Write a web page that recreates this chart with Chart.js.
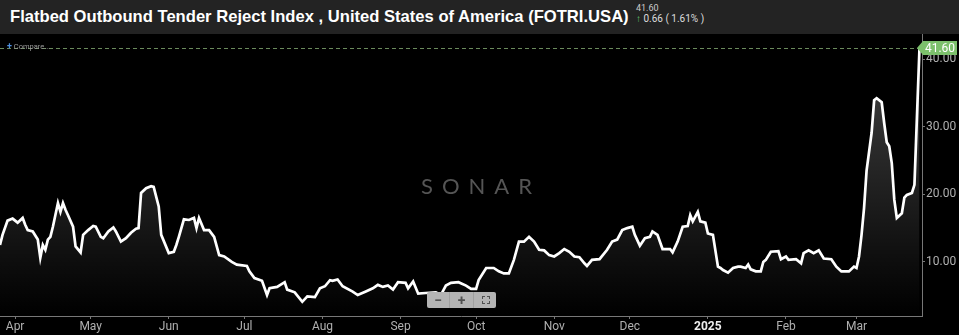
<!DOCTYPE html>
<html>
<head>
<meta charset="utf-8">
<script src="https://cdn.jsdelivr.net/npm/chart.js@4"></script>
<style>
  html, body { margin: 0; padding: 0; background: #000; }
  #wrap { position: relative; width: 959px; height: 335px; overflow: hidden; background: #000; }
  #c { position: absolute; left: 0; top: 0; }
  #bar { position: absolute; left: 0; top: 0; width: 959px; height: 34px; background: #232323; z-index: 2; }
  #title { position: absolute; left: 10px; top: 7px; font: bold 16.6px "Liberation Sans", Arial, sans-serif; color: #fff; white-space: nowrap; }
  #lastv { position: absolute; left: 636px; top: 3px; font: 9px Roboto, sans-serif; color: #ccc; }
  #chg { position: absolute; left: 636px; top: 13px; font: 10px Roboto, sans-serif; color: #ddd; white-space: nowrap; }
  #chg b { color: #62c46e; }
  #compare { position: absolute; left: 7px; top: 41px; font: 7.5px Roboto, sans-serif; color: #9a9a9a; z-index: 2; }
  #compare span { color: #4d8fe0; font-weight: bold; font-size: 9px; }
  #sonar { position: absolute; left: 421px; top: 172px; font: 400 22px Lato, sans-serif; letter-spacing: 9px; color: #555; z-index: 2; }
  #zoomctl { position: absolute; left: 427px; top: 292px; width: 69px; height: 16px; background: #b4b4b4; border-radius: 2px; z-index: 2; display: flex; }
  #zoomctl div { flex: 1; text-align: center; font: bold 14px/16px Roboto, sans-serif; color: #505050; border-right: 1px solid #a0a0a0; position: relative; }
  #zoomctl div:last-child { border-right: none; }
  #fs { position: absolute; left: 8px; top: 4px; width: 6px; height: 6px; border: 1.5px solid #505050; }
  #fs:before { content: ''; position: absolute; left: 2px; top: -2px; width: 2px; height: 10px; background: #b4b4b4; }
  #fs:after { content: ''; position: absolute; left: -2px; top: 2px; width: 10px; height: 2px; background: #b4b4b4; }
</style>
</head>
<body>
<div id="wrap">
  <canvas id="c" width="959" height="335"></canvas>
  <div id="bar">
    <div id="title">Flatbed Outbound Tender Reject Index , United States of America (FOTRI.USA)</div>
    <div id="lastv">41.60</div>
    <div id="chg"><b>↑</b> 0.66 ( 1.61% )</div>
  </div>
  <div id="compare"><span>+</span> Compare...</div>
  <div id="sonar">SONAR</div>
  <div id="zoomctl"><div>−</div><div>+</div><div><span id="fs"></span></div></div>
</div>
<script>
// days counted from 2024-03-26
var START = Date.UTC(2024, 2, 26);

var days = [0,1,3,5,7,9,10,11,13,15,16,17,18,19,20,21,23,24,25,26,27,29,30,32,33,35,37,38,40,41,43,45,46,48,50,52,54,55,56,58,60,61,63,64,67,69,70,71,73,75,77,78,79,81,83,85,87,89,92,94,98,99,101,104,106,107,110,113,114,117,120,122,125,127,129,131,132,134,136,140,142,145,148,150,152,154,156,158,161,162,164,166,169,173,175,177,179,182,185,187,189,190,193,196,198,200,202,204,206,208,210,212,214,216,218,220,222,224,226,228,230,232,233,235,238,241,243,245,247,249,251,252,254,256,258,259,261,263,266,267,269,271,273,274,275,277,278,280,281,283,285,286,287,289,291,293,294,296,297,298,300,302,303,304,306,309,310,312,313,316,318,319,321,323,325,327,330,332,334,337,339,340,341,342,343,344,346,347,348,350,351,352,353,354,355,356,358,359,360,362,363,365];

var values = [12.5,14.0,16.1,16.4,15.8,16.5,15.5,14.7,14.5,13.3,10.6,12.5,11.8,13.3,13.7,15.2,18.7,17.4,18.7,17.7,16.9,15.2,12.3,11.4,14.0,14.7,15.3,15.2,13.7,13.5,14.5,15.1,14.5,13.0,13.5,14.3,14.9,15.0,20.2,20.9,21.2,21.1,18.2,14.0,11.3,11.5,12.5,13.7,16.3,16.2,16.5,15.0,16.5,14.7,14.7,13.7,11.0,10.8,10.0,9.6,9.4,8.6,7.6,7.2,5.1,6.1,6.3,7.0,5.9,5.5,4.1,4.9,4.8,6.1,6.4,7.3,7.2,7.4,6.4,5.6,5.1,5.6,6.1,6.6,6.3,6.5,5.9,7.0,6.9,6.1,7.1,5.3,5.4,5.5,5.1,6.5,6.9,7.0,6.5,6.0,6.0,7.3,9.1,9.1,8.6,8.3,8.3,10.3,13.0,13.0,13.7,13.0,11.8,11.7,11.0,10.8,11.3,11.9,11.5,10.8,10.7,9.8,9.4,10.3,10.4,11.8,13.0,13.3,14.7,15.0,15.2,14.0,12.4,13.5,13.7,14.5,14.0,11.9,11.9,11.4,13.0,15.2,15.3,16.9,16.0,17.4,16.0,15.8,14.2,14.0,9.3,9.1,8.8,8.4,9.1,9.3,9.3,9.1,9.6,8.9,8.6,8.6,10.0,10.3,11.5,11.6,10.4,10.8,10.3,10.4,9.8,11.3,11.7,11.3,11.7,10.5,10.4,9.3,8.6,8.6,9.3,9.1,10.8,14.0,18.0,23.5,29.1,33.9,34.2,33.6,30.5,27.7,27.1,24.6,19.2,16.5,17.2,19.5,19.9,20.2,21.4,41.6];

var tickDates = ['2024-04-01','2024-05-01','2024-06-01','2024-07-01','2024-08-01','2024-09-01','2024-10-01','2024-11-01','2024-12-01','2025-01-01','2025-02-01','2025-03-01'];
var tickLabels = ['Apr','May','Jun','Jul','Aug','Sep','Oct','Nov','Dec','2025','Feb','Mar'];
var yTicks = [10, 20, 30, 40];

var tickDays = tickDates.map(function(s) { return (Date.parse(s) - START) / 86400000; });
var lastValue = values[values.length - 1];

var lastValuePlugin = {
  id: 'lastValue',
  beforeDatasetsDraw: function(chart) {
    var ctx = chart.ctx, a = chart.chartArea;
    var py = Math.round(chart.scales.y.getPixelForValue(lastValue)) + 0.5;
    ctx.save();
    ctx.strokeStyle = '#6a8a5c';
    ctx.lineWidth = 1;
    ctx.setLineDash([4, 3]);
    ctx.beginPath();
    ctx.moveTo(0, py);
    ctx.lineTo(a.right, py);
    ctx.stroke();
    ctx.restore();
  },
  afterDraw: function(chart) {
    var ctx = chart.ctx, a = chart.chartArea;
    var py = Math.round(chart.scales.y.getPixelForValue(lastValue));
    var x0 = a.right - 5, x1 = chart.width - 2;
    ctx.save();
    ctx.fillStyle = '#7cc06c';
    ctx.beginPath();
    ctx.moveTo(x0, py);
    ctx.lineTo(x0 + 6, py - 7);
    ctx.lineTo(x1, py - 7);
    ctx.lineTo(x1, py + 7);
    ctx.lineTo(x0 + 6, py + 7);
    ctx.closePath();
    ctx.fill();
    ctx.fillStyle = '#fff';
    ctx.font = '12px Roboto';
    ctx.textAlign = 'center';
    ctx.textBaseline = 'middle';
    ctx.fillText(lastValue.toFixed(2), (x0 + 6 + x1) / 2, py + 1);
    ctx.restore();
  }
};

new Chart(document.getElementById('c'), {
  type: 'line',
  data: {
    datasets: [{
      data: days.map(function(d, i) { return { x: d, y: values[i] }; }),
      borderColor: '#ffffff',
      borderWidth: 2.7,
      pointRadius: 0,
      tension: 0,
      fill: 'start',
      backgroundColor: function(c) {
        var a = c.chart.chartArea;
        if (!a) return 'rgba(0,0,0,0)';
        var g = c.chart.ctx.createLinearGradient(0, a.top, 0, a.bottom);
        g.addColorStop(0, 'rgba(255,255,255,0.28)');
        g.addColorStop(1, 'rgba(255,255,255,0)');
        return g;
      }
    }]
  },
  options: {
    responsive: false,
    animation: false,
    devicePixelRatio: 1,
    layout: { padding: { top: 34, left: 0, right: 0, bottom: 0 } },
    plugins: { legend: { display: false }, tooltip: { enabled: false } },
    scales: {
      x: {
        type: 'linear',
        min: 0,
        max: 366,
        position: 'bottom',
        grid: { drawOnChartArea: false, drawTicks: true, tickLength: 3, color: '#777' },
        border: { display: true, color: '#777' },
        afterBuildTicks: function(s) { s.ticks = tickDays.map(function(v) { return { value: v }; }); },
        afterFit: function(s) { s.height = 19; },
        ticks: {
          autoSkip: false,
          maxRotation: 0,
          padding: 1,
          color: function(c) { return c.tick && c.tick.label === '2025' ? '#eee' : '#b0b0b0'; },
          font: function(c) {
            return c.tick && c.tick.label === '2025'
              ? { family: 'Roboto', size: 12, weight: 'bold' }
              : { family: 'Roboto', size: 12 };
          },
          callback: function(v) {
            var i = tickDays.indexOf(v);
            return i >= 0 ? tickLabels[i] : '';
          }
        }
      },
      y: {
        position: 'right',
        min: 2,
        max: 43.7,
        grid: { drawOnChartArea: false, drawTicks: true, tickLength: 3, color: '#777' },
        border: { display: true, color: '#777' },
        afterBuildTicks: function(s) { s.ticks = yTicks.map(function(v) { return { value: v }; }); },
        afterFit: function(s) { s.width = 37; },
        ticks: {
          padding: 1,
          color: '#b0b0b0',
          font: { family: 'Roboto', size: 12 },
          callback: function(v) { return v.toFixed(2); }
        }
      }
    }
  },
  plugins: [lastValuePlugin]
});
</script>
</body>
</html>
